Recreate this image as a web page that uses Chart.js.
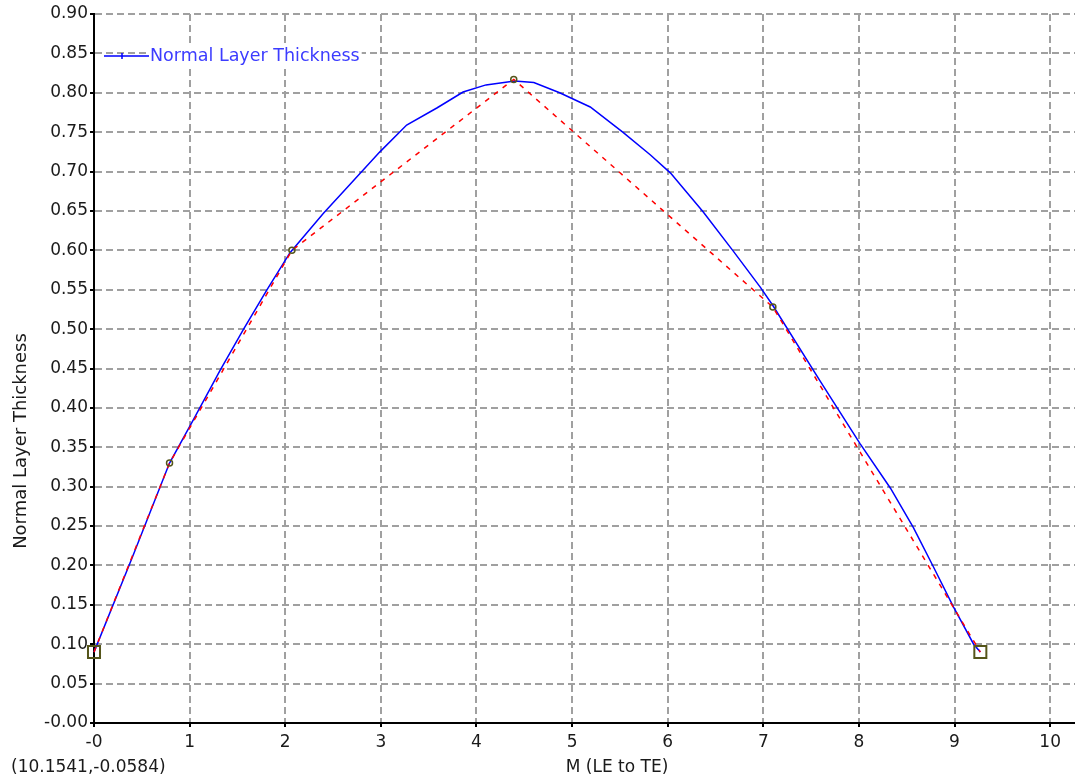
<!DOCTYPE html>
<html>
<head>
<meta charset="utf-8">
<script src="https://cdn.jsdelivr.net/npm/chart.js@4/dist/chart.umd.min.js"></script>
<style>
  html, body { margin: 0; padding: 0; background: #fff; }
  #wrap { width: 1075px; height: 784px; }
</style>
</head>
<body>
<div id="wrap"><canvas id="chart" width="1075" height="784"></canvas></div>
<script>
// smooth thickness curve (blue)
const curveX = [0, 0.4, 0.79, 1.04, 1.32, 1.56, 1.81, 2.05, 2.40, 2.65, 2.99, 3.27, 3.59, 3.86, 4.1, 4.4, 4.6, 4.87, 5.19, 5.53, 5.82, 6.03, 6.37, 6.68, 6.97, 7.10, 7.59, 8.01, 8.33, 8.57, 8.78, 8.99, 9.20, 9.27];
const curveY = [0.09, 0.21, 0.33, 0.385, 0.448, 0.499, 0.55, 0.597, 0.647, 0.68, 0.725, 0.759, 0.781, 0.801, 0.81, 0.815, 0.813, 0.80, 0.782, 0.75, 0.721, 0.698, 0.649, 0.60, 0.553, 0.53, 0.435, 0.355, 0.298, 0.248, 0.198, 0.147, 0.10, 0.09];

// control polygon (red dashed)
const polyX = [0, 0.79, 2.07, 4.39, 7.10, 9.27];
const polyY = [0.09, 0.330, 0.600, 0.817, 0.528, 0.09];

// end points (squares) and inner control points (circles)
const endX = [0, 9.27];
const endY = [0.09, 0.09];
const ctrlX = [0.79, 2.07, 4.39, 7.10];
const ctrlY = [0.330, 0.600, 0.817, 0.528];

// axis ticks
const xTicks = [0, 1, 2, 3, 4, 5, 6, 7, 8, 9, 10];
const xTickLabels = ['-0', '1', '2', '3', '4', '5', '6', '7', '8', '9', '10'];
const yTicks = [0, 0.05, 0.10, 0.15, 0.20, 0.25, 0.30, 0.35, 0.40, 0.45, 0.50, 0.55, 0.60, 0.65, 0.70, 0.75, 0.80, 0.85, 0.90];
const yTickLabels = ['-0.00', '0.05', '0.10', '0.15', '0.20', '0.25', '0.30', '0.35', '0.40', '0.45', '0.50', '0.55', '0.60', '0.65', '0.70', '0.75', '0.80', '0.85', '0.90'];

const seriesName = 'Normal Layer Thickness';
const xTitle = 'M (LE to TE)';
const yTitle = 'Normal Layer Thickness';
const cursorText = '(10.1541,-0.0584)';

const FONT = '"DejaVu Sans", Arial, sans-serif';
const OLIVE = '#55551a';
const GRID = '#a0a0a0';

const pts = (xs, ys) => xs.map((x, i) => ({ x: x, y: ys[i] }));

// titles, legend and cursor readout
const decorations = {
    id: 'decorations',
    afterDraw(chart) {
        const ctx = chart.ctx;
        ctx.save();
        ctx.fillStyle = '#1a1a1a';
        ctx.font = '17px ' + FONT;
        ctx.textBaseline = 'middle';

        ctx.textAlign = 'center';
        ctx.fillText(xTitle, 617, 768);

        ctx.textAlign = 'left';
        ctx.fillText(cursorText, 11, 768);

        ctx.save();
        ctx.translate(21, 441);
        ctx.rotate(-Math.PI / 2);
        ctx.textAlign = 'center';
        ctx.font = '18px ' + FONT;
        ctx.fillText(yTitle, 0, 0);
        ctx.restore();

        // legend
        ctx.font = '17.5px ' + FONT;
        const w = ctx.measureText(seriesName).width;
        ctx.fillStyle = '#fff';
        ctx.fillRect(149, 46, w + 3, 20);
        ctx.strokeStyle = '#0000ff';
        ctx.lineWidth = 1.5;
        ctx.beginPath();
        ctx.moveTo(104, 56);
        ctx.lineTo(149, 56);
        ctx.moveTo(122, 53);
        ctx.lineTo(122, 59);
        ctx.stroke();
        ctx.fillStyle = '#3c3cff';
        ctx.textAlign = 'left';
        ctx.fillText(seriesName, 150, 56);
        ctx.restore();
    }
};

const gridOpts = {
    color: GRID,
    lineWidth: 2,
    tickColor: '#000',
    tickLength: 4,
    tickWidth: 2
};

new Chart(document.getElementById('chart'), {
    type: 'scatter',
    data: {
        datasets: [
            {
                label: 'ends',
                data: pts(endX, endY),
                showLine: false,
                pointStyle: 'rect',
                pointRadius: 8.5,
                backgroundColor: 'rgba(0,0,0,0)',
                borderColor: OLIVE,
                borderWidth: 2,
                clip: false,
                order: 0
            },
            {
                label: 'control points',
                data: pts(ctrlX, ctrlY),
                showLine: false,
                pointStyle: 'circle',
                pointRadius: 3,
                backgroundColor: 'rgba(0,0,0,0)',
                borderColor: OLIVE,
                borderWidth: 1.5,
                clip: false,
                order: 0
            },
            {
                label: 'polygon',
                data: pts(polyX, polyY),
                showLine: true,
                borderColor: '#ff0000',
                borderWidth: 1.5,
                borderDash: [5, 6],
                pointRadius: 0,
                tension: 0,
                clip: false,
                order: 1
            },
            {
                label: seriesName,
                data: pts(curveX, curveY),
                showLine: true,
                borderColor: '#0000ff',
                borderWidth: 1.5,
                pointRadius: 0,
                tension: 0,
                clip: false,
                order: 2
            }
        ]
    },
    options: {
        responsive: false,
        animation: false,
        layout: { autoPadding: false, padding: { top: 14, right: 0, left: 0, bottom: 0 } },
        plugins: {
            legend: { display: false },
            tooltip: { enabled: false }
        },
        scales: {
            x: {
                type: 'linear',
                min: 0,
                max: 10.26,
                afterBuildTicks: s => { s.ticks = xTicks.map(v => ({ value: v })); },
                afterFit: s => { s.height = 61; s.paddingLeft = 0; s.paddingRight = 0; },
                ticks: {
                    autoSkip: false,
                    maxRotation: 0,
                    padding: 5,
                    color: '#1a1a1a',
                    font: { family: FONT, size: 17 },
                    callback: (v, i) => xTickLabels[i]
                },
                grid: gridOpts,
                border: { display: true, color: '#000', width: 2, dash: [7, 4] }
            },
            y: {
                type: 'linear',
                min: 0,
                max: 0.9,
                afterBuildTicks: s => { s.ticks = yTicks.map(v => ({ value: v })); },
                afterFit: s => { s.width = 94; s.paddingTop = 0; s.paddingBottom = 0; },
                ticks: {
                    autoSkip: false,
                    padding: 2,
                    color: '#1a1a1a',
                    font: { family: FONT, size: 17 },
                    callback: (v, i) => yTickLabels[i]
                },
                grid: gridOpts,
                border: { display: true, color: '#000', width: 2, dash: [7, 4] }
            }
        }
    },
    plugins: [decorations]
});
</script>
</body>
</html>
